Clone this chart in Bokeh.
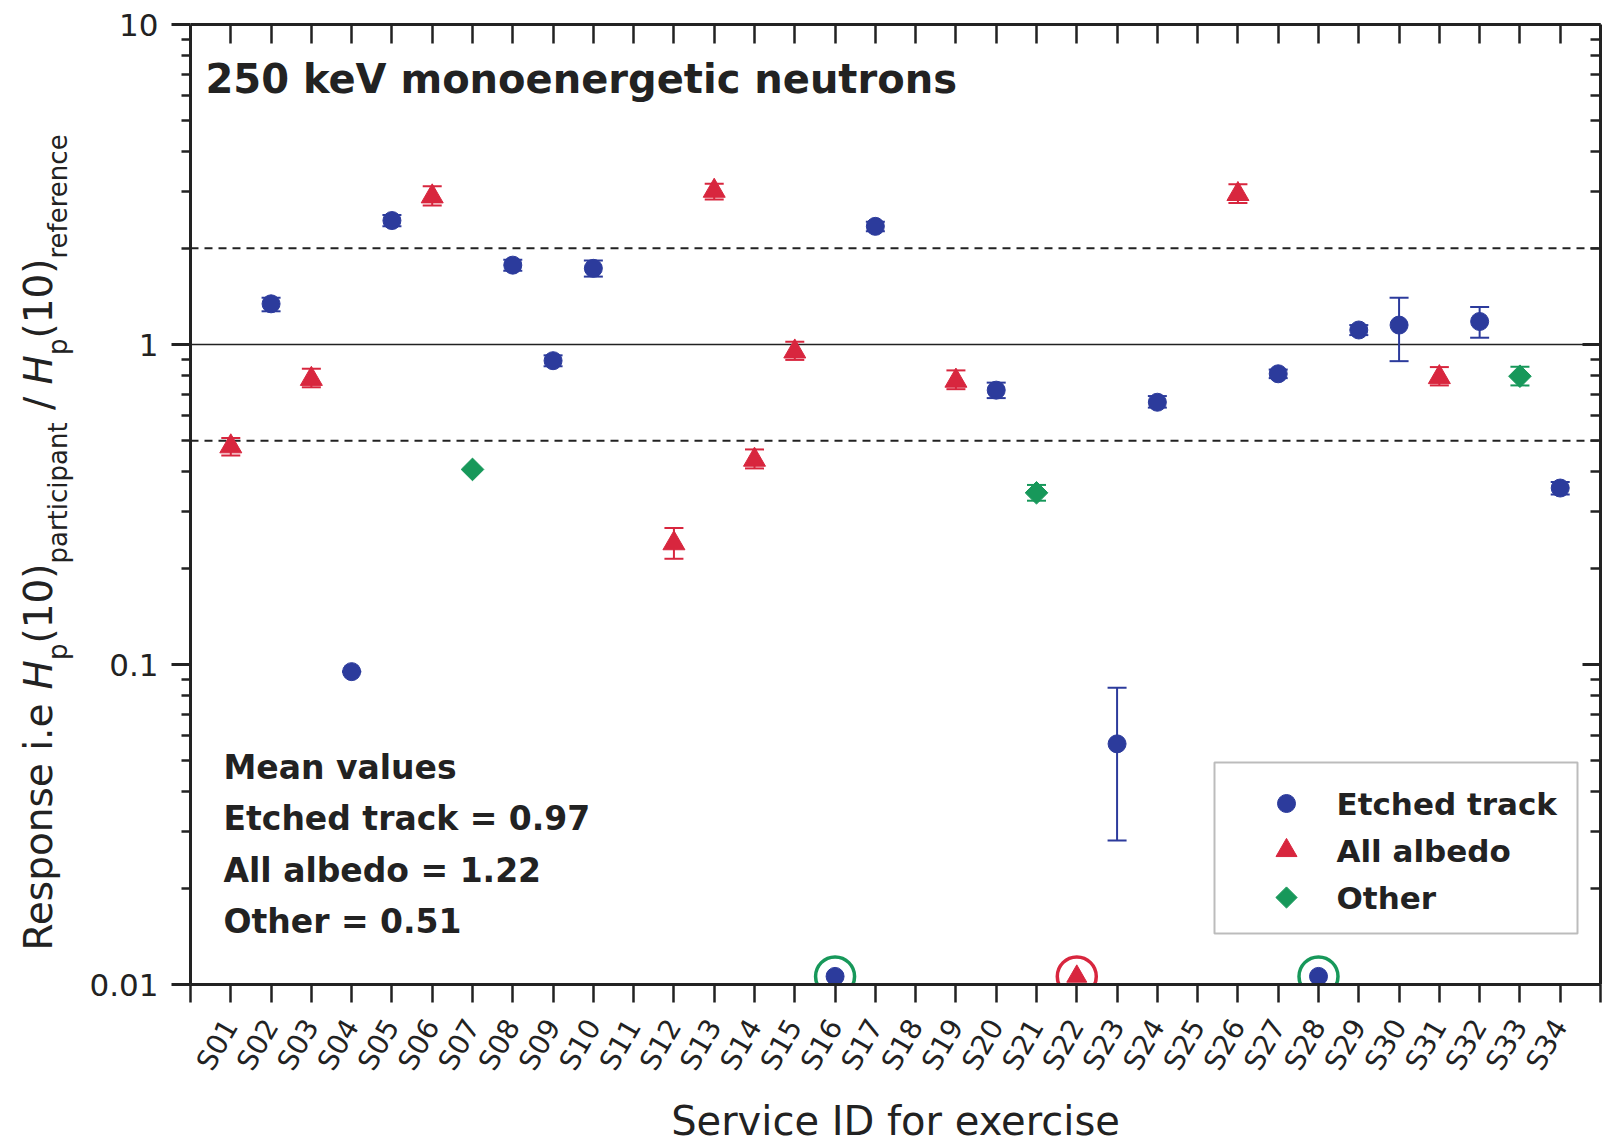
import math

from bokeh.plotting import figure
from bokeh.layouts import row
from bokeh.models import (Range1d, FixedTicker, LinearAxis, LogAxis, Whisker,
                          TeeHead, ColumnDataSource, Label, Span,
                          BoxAnnotation, CustomJSTickFormatter)
from bokeh.embed import file_html
from bokeh.resources import INLINE

# ---------------------------------------------------------------- data
services = ["S01", "S02", "S03", "S04", "S05", "S06", "S07", "S08", "S09",
            "S10", "S11", "S12", "S13", "S14", "S15", "S16", "S17", "S18",
            "S19", "S20", "S21", "S22", "S23", "S24", "S25", "S26", "S27",
            "S28", "S29", "S30", "S31", "S32", "S33", "S34"]

# Etched track dosemeters: response and its uncertainty band
etched_svc = ["S02", "S04", "S05", "S08", "S09", "S10", "S17", "S20", "S23",
              "S24", "S27", "S29", "S30", "S32", "S34"]
etched_val = [1.34, 0.095, 2.44, 1.77, 0.89, 1.73, 2.34, 0.72, 0.0565,
              0.66, 0.81, 1.11, 1.15, 1.18, 0.356]
etched_lo = [1.27, 0.095, 2.34, 1.70, 0.855, 1.63, 2.26, 0.68, 0.0282,
             0.635, 0.785, 1.07, 0.887, 1.05, 0.34]
etched_hi = [1.40, 0.095, 2.54, 1.84, 0.925, 1.83, 2.42, 0.76, 0.0846,
             0.69, 0.835, 1.15, 1.40, 1.31, 0.372]

# Albedo dosemeters
albedo_svc = ["S01", "S03", "S06", "S12", "S13", "S14", "S15", "S19", "S26",
              "S31"]
albedo_val = [0.48, 0.78, 2.90, 0.239, 3.02, 0.436, 0.95, 0.77, 2.95, 0.79]
albedo_lo = [0.45, 0.735, 2.72, 0.214, 2.84, 0.41, 0.895, 0.725, 2.77, 0.745]
albedo_hi = [0.51, 0.84, 3.12, 0.267, 3.18, 0.47, 1.02, 0.83, 3.17, 0.85]

# Other dosemeter types
other_svc = ["S07", "S21", "S33"]
other_val = [0.407, 0.344, 0.796]
other_lo = [0.407, 0.325, 0.745]
other_hi = [0.407, 0.364, 0.852]

# Services reporting no response (shown on the lower axis, ringed)
zero_etched_svc = ["S16", "S28"]
zero_albedo_svc = ["S22"]
zero_level = 0.0106

ref_levels = [0.5, 1.0, 2.0]
mean_lines = ["Mean values", "Etched track = 0.97", "All albedo = 1.22",
              "Other = 0.51"]
legend_labels = ["Etched track", "All albedo", "Other"]

# ---------------------------------------------------------------- style
FONT = "DejaVu Sans"
INK = "#222222"
BLUE = "#2c3b9c"
RED = "#d8263e"
GREEN = "#17985a"
MID = 0.346          # em offset between text centre and baseline

W, H = 1604, 1148
LW = 84                                   # strip holding the y-axis title
FL, FR, FT, FB = 190, 1600, 24, 984       # plot frame edges on the page
Y_DECADES = 3

pos = {s: i + 1 for i, s in enumerate(services)}
X_MAX = len(services) + 1


def xdata(px):
    return (px - FL) / (FR - FL) * X_MAX


def ydata(py):
    return 10 ** ((FB - py) / (FB - FT) * Y_DECADES - 2)


p = figure(width=W - LW, height=H, x_range=Range1d(0, X_MAX),
           y_range=Range1d(0.01, 10), y_axis_type="log",
           x_axis_location=None, y_axis_location=None,
           min_border_left=FL - LW, min_border_right=W - FR,
           min_border_top=FT, min_border_bottom=H - FB,
           output_backend="svg", toolbar_location=None)
p.grid.visible = False
p.outline_line_color = None
p.background_fill_color = "white"
p.border_fill_color = "white"

blank = CustomJSTickFormatter(code="return '';")

# ---- y axes (log)
yticks = FixedTicker(ticks=[0.01, 0.1, 1, 10],
                     minor_ticks=[m * 10.0 ** e for e in (-2, -1, 0)
                                  for m in range(2, 10)])
left = LogAxis(ticker=yticks,
               formatter=CustomJSTickFormatter(code="return String(tick);"),
               axis_line_width=3, axis_line_color=INK,
               major_tick_line_width=3, major_tick_line_color=INK,
               major_tick_out=19, major_tick_in=0,
               minor_tick_line_width=2.5, minor_tick_line_color=INK,
               minor_tick_out=9, minor_tick_in=0,
               major_label_text_font=FONT, major_label_text_font_size="31px",
               major_label_text_color=INK, major_label_standoff=13)
p.add_layout(left, "left")

right = LogAxis(ticker=yticks, formatter=blank,
                axis_line_width=3, axis_line_color=INK,
                major_tick_line_width=3, major_tick_line_color=INK,
                major_tick_out=0, major_tick_in=18,
                minor_tick_line_width=2.5, minor_tick_line_color=INK,
                minor_tick_out=0, minor_tick_in=10,
                major_label_standoff=0, major_label_text_font_size="1px")
p.add_layout(right, "right")

# ---- x axes (services)
xpos = [pos[s] for s in services]
top = LinearAxis(ticker=FixedTicker(ticks=xpos, minor_ticks=[]),
                 formatter=blank,
                 axis_line_width=3, axis_line_color=INK,
                 major_tick_line_width=2.5, major_tick_line_color=INK,
                 major_tick_out=0, major_tick_in=19,
                 minor_tick_out=0, minor_tick_in=0,
                 major_label_standoff=0, major_label_text_font_size="1px")
p.add_layout(top, "above")

edge_ticks = [0, X_MAX]
bottom = LinearAxis(ticker=FixedTicker(ticks=edge_ticks + xpos, minor_ticks=[]),
                    major_label_overrides={**{pos[s]: s for s in services},
                                           **{t: "" for t in edge_ticks}},
                    axis_line_width=3, axis_line_color=INK,
                    major_tick_line_width=2.5, major_tick_line_color=INK,
                    major_tick_out=18, major_tick_in=0,
                    minor_tick_out=0, minor_tick_in=0,
                    major_label_orientation=math.pi / 3,
                    major_label_text_font=FONT,
                    major_label_text_font_size="28px",
                    major_label_text_color=INK, major_label_standoff=19,
                    axis_label="Service ID for exercise",
                    axis_label_text_font=FONT,
                    axis_label_text_font_size="40px",
                    axis_label_text_font_style="normal",
                    axis_label_text_color=INK, axis_label_standoff=11)
p.add_layout(bottom, "below")

# ---- reference lines
for lvl in ref_levels:
    dashed = lvl != 1.0
    p.add_layout(Span(location=lvl, dimension="width", line_color=INK,
                      line_width=2 if dashed else 1.6,
                      line_dash="8 6" if dashed else "solid",
                      level="underlay"))


# ---- series
def series(svc, val, lo, hi, color, **marker):
    xs = [pos[s] for s in svc]
    src = ColumnDataSource(dict(x=xs, y=val, lo=lo, hi=hi))
    p.add_layout(Whisker(source=src, base="x", lower="lo", upper="hi",
                         line_color=color, line_width=2, level="underlay",
                         lower_head=TeeHead(size=19, line_color=color,
                                            line_width=2),
                         upper_head=TeeHead(size=19, line_color=color,
                                            line_width=2)))
    return p.scatter(x="x", y="y", source=src, fill_color=color,
                     line_color=color, **marker)


series(etched_svc, etched_val, etched_lo, etched_hi, BLUE,
       marker="circle", size=18)
series(albedo_svc, albedo_val, albedo_lo, albedo_hi, RED,
       marker="triangle", size=22)
series(other_svc, other_val, other_lo, other_hi, GREEN,
       marker="square", angle=math.pi / 4, size=16)

# services without a response: marker on the lower axis with a ring
for svc, color, ring, marker, size in (
        (zero_etched_svc, BLUE, GREEN, "circle", 18),
        (zero_albedo_svc, RED, RED, "triangle", 20)):
    xs = [pos[s] for s in svc]
    ys = [zero_level] * len(svc)
    p.scatter(xs, ys, marker=marker, size=size, fill_color=color,
              line_color=color)
    p.scatter(xs, ys, marker="circle", size=39, fill_color=None,
              line_color=ring, line_width=3.5)


# ---- text inside the frame (page pixel coordinates, baseline y)
def put(text, x, y, size, style="normal", align="left"):
    p.add_layout(Label(x=x - FL, y=FB - (y - MID * size),
                       x_units="screen", y_units="screen",
                       text=text, text_font=FONT,
                       text_font_size=f"{size}px", text_font_style=style,
                       text_color=INK, text_align=align,
                       text_baseline="alphabetic"))


put("250 keV monoenergetic neutrons", 205, 92, 40, "bold")

for i, line in enumerate(mean_lines):
    put(line, 223, 778 + i * 51.5, 33, "bold")

# ---- legend box
p.add_layout(BoxAnnotation(left=xdata(1214), right=xdata(1577),
                           top=ydata(762), bottom=ydata(933),
                           fill_color="white", fill_alpha=1.0,
                           line_color=INK, line_width=2, level="underlay"))
rows_y = [803, 850, 897]
p.scatter(x=[xdata(1286)] * 3, y=[ydata(v) for v in rows_y],
          marker=["circle", "triangle", "square"],
          size=[18, 21, 15], angle=[0, 0, math.pi / 4],
          fill_color=[BLUE, RED, GREEN], line_color=[BLUE, RED, GREEN])
for lab, yy in zip(legend_labels, rows_y):
    put(lab, 1336, yy + 0.365 * 31, 31, "bold")

# ---------------------------------------------------------------- y title
# The strip's frame lines up with the main frame (FT..FB), so its y data
# runs in page pixels over that span.
side = figure(width=LW, height=H, x_range=Range1d(0, LW),
              y_range=Range1d(FB, FT), min_border=0,
              x_axis_location=None, y_axis_location=None,
              output_backend="svg", toolbar_location=None)
side.grid.visible = False
side.outline_line_color = None
side.background_fill_color = "white"
side.border_fill_color = "white"

ADV = {" ": 0.318, "R": 0.695, "e": 0.615, "s": 0.521, "p": 0.635,
       "o": 0.612, "n": 0.634, "i": 0.278, ".": 0.318, "H": 0.752,
       "(": 0.390, ")": 0.390, "1": 0.636, "0": 0.636, "a": 0.613,
       "r": 0.411, "t": 0.392, "c": 0.550, "/": 0.337, "f": 0.352}
MAIN, SUB, DROP = 39, 26, 15
ylabel = [("Response i.e ", MAIN, "normal", 0), ("H", MAIN, "italic", 0),
          ("p", SUB, "normal", DROP), ("(10)", MAIN, "normal", 0),
          ("participant", SUB, "normal", DROP), (" / ", MAIN, "normal", 0),
          ("H", MAIN, "italic", 0), ("p", SUB, "normal", DROP),
          ("(10)", MAIN, "normal", 0), ("reference", SUB, "normal", DROP)]
base_x, cursor = 51, 950
for text, size, style, drop in ylabel:
    lead = (len(text) - len(text.lstrip(" "))) * ADV[" "] * size
    side.add_layout(Label(x=base_x + drop - MID * size, y=cursor - lead,
                          text=text.strip(), angle=math.pi / 2,
                          text_font=FONT, text_font_size=f"{size}px",
                          text_font_style=style, text_color=INK,
                          text_align="left", text_baseline="alphabetic"))
    cursor -= sum(ADV[c] for c in text) * size

page = row(side, p, spacing=0)
open("out.html", "w").write(file_html(page, INLINE))
